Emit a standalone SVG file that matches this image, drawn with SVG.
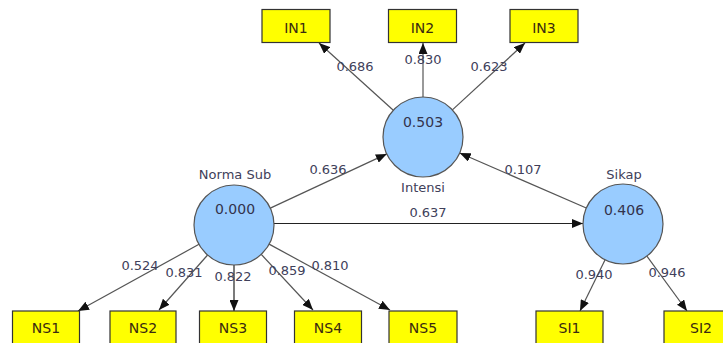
<svg xmlns="http://www.w3.org/2000/svg" width="723" height="343" viewBox="0 0 723 343">
<style>
.box{fill:#ffff00;stroke:#333;stroke-width:1.2}
.lv{fill:#99ccff;stroke:#555;stroke-width:1.2}
.bt{font-family:"DejaVu Sans",Verdana,sans-serif;font-size:14px;fill:#3a2a10;text-anchor:middle}
.lt{font-family:"DejaVu Sans",Verdana,sans-serif;font-size:13px;fill:#40405a;text-anchor:middle}
.vt{font-family:"DejaVu Sans",Verdana,sans-serif;font-size:14px;fill:#33334d;text-anchor:middle}
.c{stroke:#555;stroke-width:1.2;fill:none;marker-end:url(#ah)}
</style>
<defs>
<marker id="ah" markerUnits="userSpaceOnUse" markerWidth="11" markerHeight="9" refX="11" refY="4.5" orient="auto">
<path d="M0,0 L11,4.5 L0,9 z" fill="#111"/>
</marker>
</defs>
<rect width="723" height="343" fill="#fff"/>
<g id="connectors">
<line class="c" x1="393.3" y1="110.2" x2="319" y2="43"/>
<line class="c" x1="423" y1="97" x2="423" y2="43"/>
<line class="c" x1="452.4" y1="109.9" x2="525" y2="43"/>
<line class="c" x1="270.3" y1="208.1" x2="386.8" y2="153.9"/>
<line class="c" x1="586.3" y1="208" x2="459.7" y2="153"/>
<line class="c" style="stroke:#222" x1="274" y1="223.5" x2="583" y2="223.5"/>
<line class="c" x1="199" y1="244.3" x2="78" y2="311"/>
<line class="c" x1="207.6" y1="255" x2="159" y2="310"/>
<line class="c" style="stroke:#222" x1="234" y1="265" x2="234" y2="311"/>
<line class="c" x1="261.2" y1="254.3" x2="313" y2="310"/>
<line class="c" x1="269.1" y1="244.1" x2="390" y2="310"/>
<line class="c" x1="605.1" y1="259.8" x2="580" y2="311"/>
<line class="c" x1="646.9" y1="256.1" x2="687" y2="311"/>
<text class="lt" x="355" y="71">0.686</text>
<text class="lt" x="423" y="64">0.830</text>
<text class="lt" x="489" y="71">0.623</text>
<text class="lt" x="328" y="174">0.636</text>
<text class="lt" x="523" y="174">0.107</text>
<text class="lt" x="428" y="217">0.637</text>
<text class="lt" x="140" y="270">0.524</text>
<text class="lt" x="184" y="277">0.831</text>
<text class="lt" x="233" y="281">0.822</text>
<text class="lt" x="287" y="275">0.859</text>
<text class="lt" x="330" y="270">0.810</text>
<text class="lt" x="594" y="279">0.940</text>
<text class="lt" x="667" y="277">0.946</text>
</g>
<g id="Intensi"><circle class="lv" cx="423" cy="137" r="40"/><text class="vt" x="423" y="127">0.503</text><text class="lt" x="423" y="192">Intensi</text></g>
<g id="NormaSub"><circle class="lv" cx="234" cy="225" r="40"/><text class="vt" x="235" y="214">0.000</text><text class="lt" x="235" y="179">Norma Sub</text></g>
<g id="Sikap"><circle class="lv" cx="623" cy="224" r="40"/><text class="vt" x="624" y="215">0.406</text><text class="lt" x="624" y="179">Sikap</text></g>
<g id="IN1"><rect class="box" x="262" y="9.5" width="68" height="33"/><text class="bt" x="296" y="33">IN1</text></g>
<g id="IN2"><rect class="box" x="388.5" y="9.5" width="68" height="33"/><text class="bt" x="422.5" y="33">IN2</text></g>
<g id="IN3"><rect class="box" x="510" y="9.5" width="68" height="33"/><text class="bt" x="544" y="33">IN3</text></g>
<g id="NS1"><rect class="box" x="12.5" y="311" width="67" height="34"/><text class="bt" x="46" y="333">NS1</text></g>
<g id="NS2"><rect class="box" x="110" y="311" width="66" height="34"/><text class="bt" x="143" y="333">NS2</text></g>
<g id="NS3"><rect class="box" x="199.5" y="311" width="67" height="34"/><text class="bt" x="233" y="333">NS3</text></g>
<g id="NS4"><rect class="box" x="294.5" y="311" width="67" height="34"/><text class="bt" x="328" y="333">NS4</text></g>
<g id="NS5"><rect class="box" x="389" y="311" width="68" height="34"/><text class="bt" x="423" y="333">NS5</text></g>
<g id="SI1"><rect class="box" x="536" y="311" width="67" height="34"/><text class="bt" x="569.5" y="333">SI1</text></g>
<g id="SI2"><rect class="box" x="664" y="311" width="68" height="34"/><text class="bt" x="701" y="333">SI2</text></g>
</svg>
